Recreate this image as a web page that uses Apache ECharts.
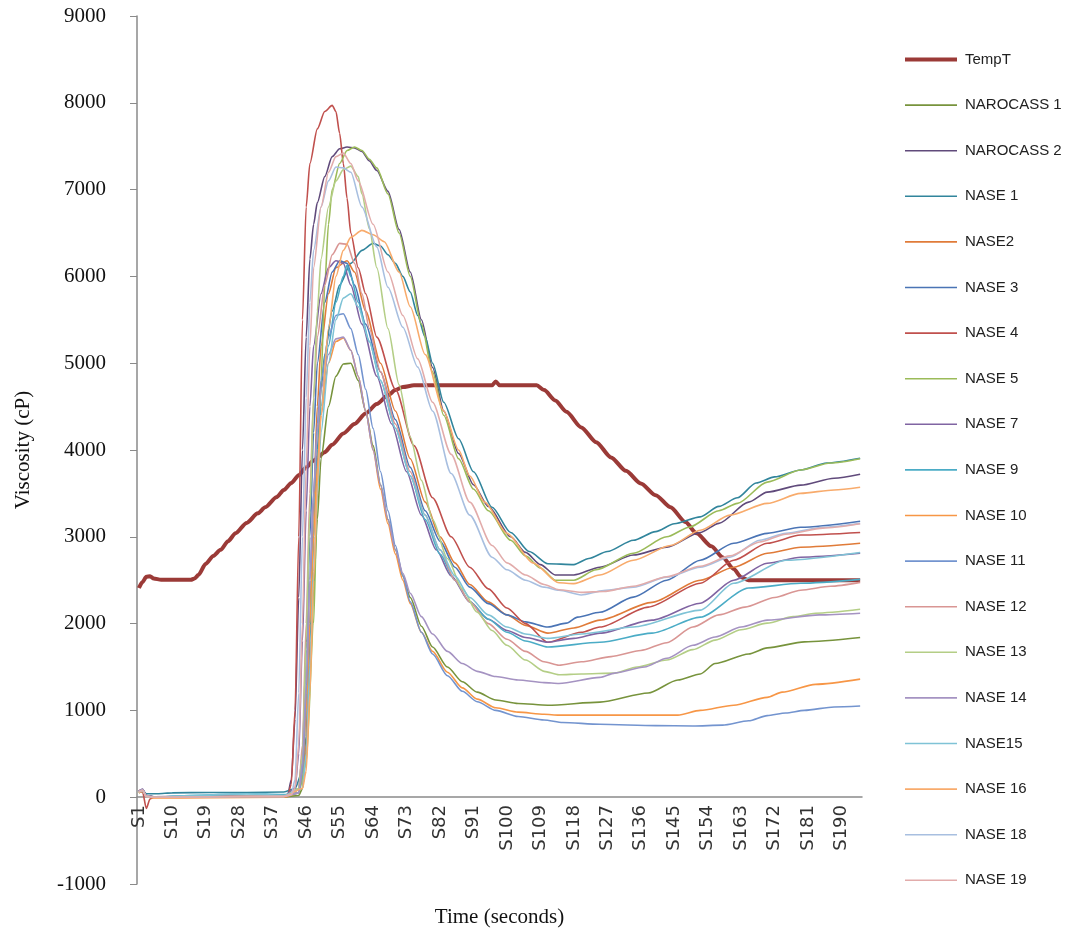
<!DOCTYPE html>
<html><head><meta charset="utf-8">
<script src="https://cdn.jsdelivr.net/npm/echarts@6/dist/echarts.min.js"></script>
<style>html,body{margin:0;padding:0;background:#fff}#c{width:1080px;height:931px}</style>
</head><body><div id="c"></div>
<script>
// Category labels S1..S195
const categories = Array.from({length:195},(_,i)=>'S'+(i+1));
const yTicks = [-1000,0,1000,2000,3000,4000,5000,6000,7000,8000,9000];

// Key points: [sample number, value]
const tempT = [[1,2410],[2,2480],[3,2540],[4,2545],[5,2520],[7,2505],[15,2505],[16,2520],[17,2560],[19,2690],[21,2780],[23,2850],[25,2950],[27,3040],[30,3160],[33,3270],[35,3340],[38,3455],[40,3540],[42,3620],[44,3710],[46,3800],[48,3880],[51,3975],[53,4060],[56,4190],[59,4300],[62,4420],[65,4530],[68,4630],[70,4690],[72,4725],[75,4745],[96,4745],[97,4790],[98,4745],[108,4745],[110,4690],[113,4570],[116,4440],[120,4260],[124,4090],[128,3915],[132,3760],[136,3615],[140,3480],[144,3340],[148,3170],[151,3040],[155,2890],[158,2765],[161,2630],[163,2535],[165,2500],[195,2500]];
const narocass1 = [[1,50],[2,70],[3,10],[5,0],[20,5],[40,5],[44,20],[45,100],[46,500],[47,1400],[48,2400],[49,3200],[50,3900],[52,4500],[54,4850],[56,4990],[58,5000],[60,4800],[62,4450],[64,4050],[66,3600],[68,3200],[70,2850],[72,2550],[74,2300],[77,1970],[80,1730],[84,1500],[88,1330],[92,1210],[97,1120],[103,1080],[111,1060],[125,1095],[138,1200],[146,1350],[152,1420],[156,1540],[165,1650],[170,1720],[180,1790],[195,1840]];
const narocass2 = [[1,70],[2,90],[3,20],[5,5],[20,10],[40,10],[41,20],[42,200],[43,900],[44,2300],[45,4000],[46,5300],[47,6200],[48,6600],[49,6850],[51,7150],[53,7380],[55,7470],[57,7490],[59,7480],[61,7440],[63,7330],[65,7220],[68,6980],[71,6540],[74,6050],[77,5500],[80,4950],[83,4450],[87,3960],[91,3600],[95,3350],[101,3000],[105,2820],[109,2680],[113,2560],[118,2560],[125,2650],[134,2790],[143,2880],[152,3050],[157,3155],[165,3400],[170,3515],[179,3595],[188,3675],[195,3720]];
const nase1 = [[1,60],[2,80],[3,40],[6,40],[10,50],[20,55],[30,55],[40,60],[43,100],[45,300],[46,700],[47,1800],[48,3000],[49,4000],[50,4700],[51,5100],[53,5600],[55,5900],[58,6150],[61,6300],[64,6380],[66,6350],[68,6250],[70,6150],[72,6000],[74,5820],[76,5550],[78,5300],[80,5000],[83,4550],[87,4130],[91,3750],[96,3340],[101,3050],[106,2830],[111,2690],[118,2680],[122,2750],[127,2830],[134,2960],[140,3060],[145,3150],[152,3230],[157,3350],[162,3450],[167,3620],[172,3690],[179,3770],[186,3850],[195,3905]];
const nase2 = [[1,60],[2,80],[3,10],[5,0],[20,5],[40,10],[45,100],[46,600],[47,2000],[48,3400],[49,4500],[50,5200],[52,5800],[54,6100],[57,6180],[59,6050],[62,5600],[66,5000],[70,4450],[74,3900],[78,3400],[82,3000],[86,2700],[90,2450],[95,2250],[100,2100],[105,1980],[111,1890],[118,1950],[125,2040],[139,2245],[152,2500],[161,2650],[170,2810],[179,2880],[195,2925]];
const nase3 = [[1,70],[2,80],[3,20],[5,5],[20,10],[40,10],[44,100],[45,500],[46,1700],[47,3000],[48,4200],[49,5000],[51,5700],[53,6050],[55,6180],[57,6150],[59,5900],[62,5450],[66,4900],[70,4350],[74,3800],[78,3300],[82,2950],[86,2650],[90,2420],[95,2230],[100,2100],[105,2020],[111,1960],[116,2005],[119,2075],[125,2130],[134,2305],[143,2500],[152,2730],[161,2925],[170,3040],[179,3110],[195,3180]];
const nase4 = [[1,80],[2,60],[3,-130],[4,-20],[5,0],[20,5],[41,10],[42,150],[43,1000],[44,3000],[45,5500],[46,6800],[47,7300],[49,7700],[51,7900],[53,7970],[54,7900],[55,7650],[56,7300],[57,6900],[58,6500],[60,6100],[62,5800],[65,5300],[70,4700],[75,4050],[80,3450],[85,3000],[90,2650],[95,2400],[100,2180],[105,2000],[111,1785],[120,1900],[125,1960],[138,2190],[152,2465],[161,2730],[170,2925],[179,3020],[195,3050]];
const nase5 = [[1,60],[2,80],[3,20],[5,0],[20,5],[40,10],[44,50],[46,400],[48,2000],[49,3500],[50,4800],[51,5900],[52,6600],[53,7000],[55,7300],[57,7450],[59,7490],[61,7450],[63,7350],[65,7250],[68,6950],[71,6500],[74,6000],[77,5450],[80,4900],[83,4400],[87,3900],[91,3550],[95,3300],[101,2960],[105,2780],[109,2640],[113,2500],[118,2500],[124,2620],[134,2810],[143,3000],[149,3110],[157,3300],[162,3385],[170,3630],[179,3770],[187,3850],[195,3900]];
const nase7 = [[1,70],[2,90],[3,20],[5,0],[20,5],[40,10],[43,100],[44,500],[45,1800],[46,3300],[47,4500],[48,5200],[50,5800],[52,6100],[54,6180],[56,6150],[58,5900],[61,5450],[65,4850],[69,4300],[73,3750],[77,3250],[81,2850],[85,2550],[90,2250],[95,2050],[100,1920],[105,1840],[111,1785],[118,1830],[125,1890],[139,2040],[152,2235],[161,2500],[170,2695],[179,2765],[195,2810]];
const nase9 = [[1,60],[2,70],[3,10],[5,0],[15,20],[30,40],[40,30],[44,50],[45,300],[46,1000],[47,2000],[48,3000],[49,3900],[50,4500],[52,5200],[54,5700],[56,6000],[57,6130],[58,6000],[60,5700],[63,5250],[66,4800],[70,4250],[74,3700],[78,3200],[82,2800],[86,2500],[90,2250],[95,2050],[100,1900],[105,1800],[111,1730],[125,1785],[139,1890],[152,2075],[165,2410],[179,2465],[195,2510]];
const nase10 = [[1,50],[2,70],[3,10],[5,-10],[20,-5],[40,0],[44,50],[45,300],[46,1000],[47,2000],[48,3000],[49,3800],[50,4400],[52,5000],[54,5250],[56,5290],[58,5150],[60,4850],[62,4450],[64,4000],[66,3550],[68,3150],[70,2800],[72,2500],[74,2230],[77,1900],[80,1680],[84,1440],[88,1260],[92,1130],[97,1030],[103,980],[110,955],[114,945],[146,945],[152,1000],[161,1060],[170,1150],[174,1210],[183,1300],[195,1360]];
const nase11 = [[1,60],[2,80],[3,10],[5,0],[20,5],[40,10],[44,50],[45,300],[46,1200],[47,2500],[48,3500],[49,4300],[50,4800],[52,5300],[54,5550],[56,5570],[58,5400],[60,5100],[62,4700],[64,4250],[66,3750],[68,3300],[70,2900],[72,2550],[74,2250],[77,1900],[80,1650],[84,1400],[88,1220],[92,1100],[97,1000],[103,930],[110,890],[115,860],[125,840],[140,825],[150,820],[158,830],[165,880],[170,940],[175,970],[180,1000],[188,1040],[195,1050]];
const nase12 = [[1,60],[2,80],[3,10],[5,0],[20,5],[40,10],[44,100],[45,600],[46,2000],[47,3500],[48,4600],[49,5300],[51,5900],[53,6250],[55,6380],[57,6370],[59,6150],[61,5800],[63,5400],[66,4900],[70,4300],[74,3750],[78,3250],[82,2850],[86,2500],[90,2250],[95,2000],[100,1820],[105,1680],[110,1560],[114,1520],[120,1560],[128,1620],[136,1690],[143,1780],[150,1960],[157,2100],[164,2190],[172,2300],[179,2385],[187,2430],[195,2475]];
const nase13 = [[1,60],[2,80],[3,10],[5,0],[20,5],[40,10],[44,100],[45,500],[46,1800],[47,3300],[48,4600],[49,5600],[50,6200],[52,6800],[54,7100],[56,7230],[58,7270],[60,7150],[61,6950],[63,6550],[65,6100],[68,5400],[71,4750],[74,4150],[77,3650],[80,3200],[84,2750],[88,2400],[92,2130],[96,1920],[100,1750],[105,1580],[110,1450],[114,1410],[120,1420],[129,1430],[135,1500],[143,1580],[150,1700],[156,1810],[163,1930],[170,2005],[177,2080],[183,2120],[195,2165]];
const nase14 = [[1,70],[2,90],[3,20],[5,0],[20,5],[40,10],[44,50],[45,400],[46,1300],[47,2500],[48,3500],[49,4200],[50,4700],[52,5100],[54,5280],[56,5300],[58,5150],[60,4850],[62,4450],[64,4000],[66,3600],[68,3200],[70,2850],[72,2580],[74,2350],[77,2080],[80,1880],[84,1680],[88,1540],[92,1450],[97,1390],[103,1350],[110,1320],[114,1310],[125,1380],[129,1430],[137,1500],[143,1600],[150,1750],[156,1845],[163,1960],[170,2040],[184,2100],[195,2120]];
const nase15 = [[1,60],[2,80],[3,10],[5,0],[15,20],[30,40],[40,20],[45,100],[46,500],[47,1500],[48,2600],[49,3500],[50,4200],[52,5000],[54,5500],[56,5750],[58,5800],[60,5650],[63,5250],[66,4800],[70,4250],[74,3700],[78,3250],[82,2850],[86,2550],[90,2300],[95,2100],[100,1960],[105,1880],[111,1830],[120,1880],[134,1960],[152,2155],[161,2465],[175,2730],[195,2820]];
const nase16 = [[1,60],[2,80],[3,10],[5,0],[20,5],[40,10],[45,100],[46,300],[47,1200],[48,2500],[49,3600],[50,4400],[52,5400],[54,6000],[56,6300],[58,6450],[61,6530],[64,6480],[67,6400],[71,6050],[74,5650],[78,5100],[83,4450],[87,4000],[90,3700],[94,3400],[100,3040],[107,2700],[114,2470],[118,2460],[125,2560],[134,2730],[144,2900],[152,3075],[160,3250],[170,3385],[179,3500],[188,3540],[195,3570]];
const nase18 = [[1,60],[2,80],[3,10],[5,0],[20,5],[40,10],[42,30],[43,200],[44,1200],[45,3000],[46,4600],[47,5700],[48,6300],[50,6800],[52,7100],[54,7260],[56,7250],[58,7200],[61,6800],[65,6340],[68,5875],[72,5415],[76,4955],[80,4450],[85,3730],[90,3250],[96,2765],[100,2620],[105,2500],[110,2420],[114,2385],[120,2330],[126,2380],[134,2420],[143,2535],[152,2650],[160,2765],[168,2960],[175,3040],[185,3110],[195,3155]];
const nase19 = [[1,60],[2,80],[3,10],[5,0],[20,5],[40,10],[42,30],[43,100],[44,600],[45,2000],[46,3800],[47,5200],[48,6100],[50,6800],[52,7200],[54,7380],[56,7420],[58,7300],[60,7100],[64,6600],[68,6050],[72,5550],[76,5050],[80,4550],[85,3950],[90,3400],[96,2900],[100,2700],[105,2560],[110,2450],[114,2390],[120,2360],[126,2370],[134,2430],[143,2540],[152,2660],[160,2780],[168,2940],[175,3030],[185,3100],[195,3150]];

const seriesNames = ['TempT','NAROCASS 1','NAROCASS 2','NASE 1','NASE2','NASE 3','NASE 4','NASE 5','NASE 7','NASE 9','NASE 10','NASE 11','NASE 12','NASE 13','NASE 14','NASE15','NASE 16','NASE 18','NASE 19'];
const seriesData = [tempT,narocass1,narocass2,nase1,nase2,nase3,nase4,nase5,nase7,nase9,nase10,nase11,nase12,nase13,nase14,nase15,nase16,nase18,nase19];
const seriesColors = ['#9B3A37','#77933C','#604A7B','#31859C','#E07B39','#4A74B5','#C0504D','#9BBB59','#8064A2','#4BACC6','#F79646','#7394CF','#D99694','#B4CE86','#A593C2','#7FC3D6','#F8AB6C','#A8BFE0','#E2ACAB'];

const chart = echarts.init(document.getElementById('c'));
chart.setOption({
  animation:false,
  backgroundColor:'#fff',
  grid:{left:137,right:218,top:16,bottom:47,containLabel:false,outerBoundsMode:'none'},
  legend:{
    orient:'vertical', left:905, top:52, padding:0, itemWidth:52, itemHeight:14, itemGap:30.6,
    textStyle:{fontFamily:'Liberation Sans',fontSize:15,color:'#222',padding:[0,0,0,3]},
    data:seriesNames.map((n,k)=>({name:n, icon: 'path://M0,0L52,0L52,'+(k===0?4:1.6)+'L0,'+(k===0?4:1.6)+'Z', itemStyle:{color:seriesColors[k]}}))
  },
  xAxis:{
    type:'category', data:categories, boundaryGap:true, offset:-87,
    name:'Time (seconds)', nameLocation:'middle', nameGap:110, nameMoveOverlap:false,
    nameTextStyle:{fontFamily:'Liberation Serif',fontSize:21,color:'#111'},
    axisLine:{onZero:false,lineStyle:{color:'#8a8a8a',width:1.5}},
    axisTick:{interval:0,length:6,lineStyle:{color:'#8a8a8a'}},
    axisLabel:{interval:8,rotate:90,fontFamily:'DejaVu Sans',fontSize:18,color:'#333',margin:8},
    splitLine:{show:false}
  },
  yAxis:{
    type:'value', min:-1000, max:9000, interval:1000,
    name:'Viscosity (cP)', nameLocation:'middle', nameGap:103, nameRotate:90, nameMoveOverlap:false,
    nameTextStyle:{fontFamily:'Liberation Serif',fontSize:21,color:'#111'},
    axisLine:{show:true,lineStyle:{color:'#8a8a8a',width:1.5}},
    axisTick:{show:true,length:7,lineStyle:{color:'#8a8a8a'}},
    axisLabel:{fontFamily:'Liberation Serif',fontSize:21,color:'#111',margin:31,formatter:v=>String(v)},
    splitLine:{show:false}
  },
  series: seriesNames.map((n,k)=>({
    name:n, type:'line', symbol:'none', smooth:0.25, smoothMonotone:'x',
    data: seriesData[k].map(p=>['S'+p[0],p[1]]),
    lineStyle:{color:seriesColors[k], width: k===0?4:1.6},
    itemStyle:{color:seriesColors[k]}
  }))
});
</script></body></html>
